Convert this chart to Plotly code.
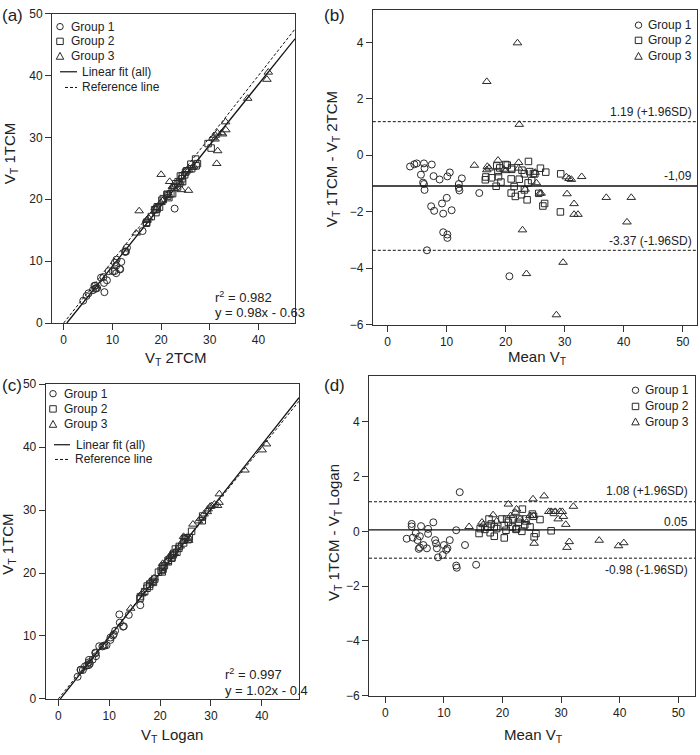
import numpy as np
import plotly.graph_objects as go

W, H = 700, 755
FONT = "Liberation Sans, Arial, sans-serif"
INK = "#2a2a2a"

# ---------------- Panel (a): VT 2TCM (x) vs VT 1TCM (y) ----------------
a_g1_x = [4.01, 4.69, 5.09, 6.31, 7.66, 6.49, 6.00, 6.50, 6.67, 6.88, 8.16, 9.24, 10.51, 10.85, 12.99,
          12.58, 12.65, 12.80, 8.29, 8.88, 10.08, 10.79, 10.46, 11.83, 10.79, 11.54, 11.60, 8.36, 16.20, 22.78]
a_g1_y = [3.61, 4.37, 4.80, 6.02, 7.33, 6.03, 5.31, 5.53, 5.65, 5.65, 7.42, 8.38, 9.76, 10.24, 12.17,
          11.56, 11.49, 11.55, 6.48, 6.91, 8.37, 9.28, 8.39, 9.88, 8.06, 8.73, 8.67, 4.99, 14.86, 18.49]
a_g2_x = [16.99, 17.04, 18.00, 18.94, 18.68, 18.98, 19.17, 19.23, 19.68, 20.17, 20.45, 21.23, 21.28, 21.35,
          21.60, 22.00, 22.37, 22.73, 23.03, 23.38, 23.79, 23.50, 24.42, 24.29, 23.97, 24.37, 24.85, 25.03,
          25.26, 26.28, 26.12, 27.20, 27.46, 27.09, 30.28, 29.65]
a_g2_y = [16.12, 16.27, 17.20, 17.84, 18.30, 18.40, 18.41, 18.78, 18.73, 19.84, 20.10, 20.78, 20.78, 20.51,
          20.26, 20.89, 20.91, 21.88, 22.50, 21.98, 22.56, 22.84, 22.84, 23.31, 23.75, 23.79, 23.95, 24.38,
          24.60, 24.93, 25.66, 25.40, 25.75, 26.49, 28.27, 28.99]
a_g3_x = [20.01, 15.50, 21.76, 14.88, 17.10, 17.06, 17.43, 18.79, 19.95, 20.28, 22.33, 22.43, 25.31, 25.69,
          26.45, 26.68, 23.91, 24.18, 25.62, 31.62, 31.42, 31.08, 30.67, 31.15, 31.56, 33.25, 32.44, 32.63,
          33.30, 37.79, 42.02, 41.73]
a_g3_y = [23.99, 18.11, 22.85, 14.52, 16.70, 16.54, 16.97, 18.61, 19.45, 19.73, 22.07, 21.97, 24.70, 24.71,
          25.10, 25.33, 22.70, 21.53, 21.42, 27.82, 25.76, 29.71, 29.90, 30.32, 30.70, 32.49, 30.72, 30.53,
          31.20, 36.29, 40.52, 39.36]
a_fit_slope, a_fit_intercept = 0.98, -0.63
a_r2 = "0.982"

# ---------------- Panel (b): Bland-Altman 1TCM - 2TCM ----------------
b_g1_mean = [3.81, 4.53, 4.94, 6.16, 7.49, 6.26, 5.65, 6.01, 6.16, 6.26, 7.79, 8.81, 10.13, 10.54, 12.58,
             12.07, 12.07, 12.17, 7.38, 7.89, 9.22, 10.03, 9.42, 10.85, 9.42, 10.13, 10.13, 6.67, 15.53, 20.63]
b_g1_diff = [-0.40, -0.32, -0.29, -0.29, -0.33, -0.46, -0.69, -0.97, -1.02, -1.23, -0.74, -0.86, -0.75, -0.61,
             -0.82, -1.02, -1.16, -1.25, -1.81, -1.97, -1.71, -1.51, -2.07, -1.95, -2.73, -2.81, -2.93, -3.37,
             -1.34, -4.29]
b_g2_mean = [16.55, 16.65, 17.6, 18.39, 18.49, 18.69, 18.79, 19.0, 19.2, 20.0, 20.27, 21.0, 21.03, 20.93, 20.93,
             21.44, 21.64, 22.3, 22.76, 22.68, 23.17, 23.17, 23.63, 23.8, 23.86, 24.08, 24.4, 24.7, 24.93, 25.6,
             25.89, 26.3, 26.6, 26.79, 29.27, 29.32]
b_g2_diff = [-0.87, -0.77, -0.80, -1.10, -0.38, -0.58, -0.76, -0.45, -0.95, -0.33, -0.35, -0.45, -0.50, -0.84,
             -1.34, -1.11, -1.46, -0.85, -0.53, -1.40, -1.23, -0.66, -1.58, -0.98, -0.22, -0.58, -0.90, -0.65,
             -0.66, -1.35, -0.46, -1.80, -1.71, -0.60, -2.01, -0.66]
b_g3_mean = [22.0, 16.8, 22.3, 14.7, 16.9, 16.8, 17.2, 18.7, 19.7, 20.0, 22.2, 22.2, 25.0, 25.2, 25.77, 26.0,
             23.3, 22.85, 23.52, 29.72, 28.59, 30.39, 30.28, 30.73, 31.13, 32.87, 31.58, 31.58, 32.25, 37.04,
             41.27, 40.54]
b_g3_diff = [3.98, 2.61, 1.09, -0.36, -0.40, -0.52, -0.46, -0.18, -0.50, -0.55, -0.26, -0.46, -0.61, -0.98,
             -1.35, -1.35, -1.21, -2.65, -4.20, -3.80, -5.66, -1.37, -0.77, -0.83, -0.86, -0.76, -1.72, -2.10,
             -2.10, -1.50, -1.50, -2.37]
b_bias, b_upper, b_lower = -1.09, 1.19, -3.37
b_labels = ["1.19 (+1.96SD)", "-1,09", "-3.37 (-1.96SD)"]

# ---------------- Panel (c): VT Logan (x) vs VT 1TCM (y) ----------------
c_g1_x = [3.79, 4.37, 4.41, 4.82, 5.23, 5.66, 5.99, 6.20, 6.75, 7.26, 7.35, 7.41, 8.04, 8.66, 8.87, 9.11,
          9.48, 10.23, 10.25, 10.74, 10.91, 11.16, 12.08, 12.73, 12.87, 11.99, 13.85, 16.11, 6.02, 6.01]
c_g1_y = [3.52, 4.64, 4.59, 4.59, 5.17, 5.34, 5.81, 5.61, 6.25, 7.35, 7.26, 6.79, 8.37, 8.34, 8.43, 8.49,
          8.53, 9.37, 9.75, 10.06, 10.29, 10.84, 12.12, 11.48, 11.54, 13.42, 13.35, 14.89, 5.38, 6.20]
c_g2_x = [16.04, 16.15, 16.97, 17.43, 17.48, 17.93, 17.97, 18.69, 18.52, 18.95, 19.68, 20.42, 20.20, 20.58,
          20.48, 20.84, 21.62, 21.58, 22.27, 22.35, 22.54, 22.68, 23.30, 23.00, 23.68, 23.78, 24.62, 24.79,
          25.03, 25.50, 25.74, 26.19, 28.29, 28.36]
c_g2_y = [15.96, 16.25, 17.04, 17.58, 17.93, 17.88, 18.24, 18.51, 18.68, 19.05, 20.13, 20.18, 20.41, 20.62,
          20.93, 21.17, 21.78, 22.03, 22.34, 22.45, 22.87, 23.13, 23.30, 23.81, 23.92, 24.23, 24.78, 25.42,
          25.58, 25.30, 25.66, 26.62, 28.31, 29.05]
c_g3_x = [14.22, 16.34, 16.58, 18.10, 18.82, 20.51, 21.12, 21.86, 22.00, 22.78, 23.94, 24.42, 24.61, 25.02,
          25.62, 26.46, 27.54, 27.94, 28.64, 29.28, 29.44, 29.84, 30.13, 30.68, 31.30, 31.59, 31.65, 36.67,
          40.07, 40.91]
c_g3_y = [14.39, 16.67, 16.82, 18.70, 19.19, 21.50, 21.69, 22.55, 22.81, 23.23, 24.27, 24.99, 25.79, 25.59,
          25.18, 27.75, 28.26, 28.66, 29.36, 29.73, 30.16, 30.56, 30.67, 30.93, 30.71, 31.21, 32.56, 36.34,
          39.54, 40.49]
c_fit_slope, c_fit_intercept = 1.02, -0.4
c_r2 = "0.997"

# ---------------- Panel (d): Bland-Altman 1TCM - Logan ----------------
d_g1_mean = [3.65, 4.5, 4.5, 4.7, 5.2, 5.5, 5.9, 5.9, 6.5, 7.3, 7.3, 7.1, 8.2, 8.5, 8.65, 8.8, 9.0, 9.8, 10.0,
             10.4, 10.6, 11.0, 12.1, 12.1, 12.2, 12.7, 13.6, 15.5, 5.7, 6.1]
d_g1_diff = [-0.27, 0.27, 0.18, -0.23, -0.06, -0.32, -0.18, -0.59, -0.50, 0.09, -0.09, -0.62, 0.33, -0.32,
             -0.44, -0.62, -0.95, -0.86, -0.50, -0.68, -0.62, -0.32, 0.04, -1.25, -1.33, 1.43, -0.50, -1.22,
             -0.64, 0.19]
d_g2_mean = [16.0, 16.2, 17.0, 17.5, 17.7, 17.9, 18.1, 18.6, 18.6, 19.0, 19.9, 20.3, 20.3, 20.6, 20.7, 21.0,
             21.7, 21.8, 22.3, 22.4, 22.7, 22.9, 23.3, 23.4, 23.8, 24.0, 24.7, 25.1, 25.3, 25.4, 25.7, 26.4,
             28.3, 28.7]
d_g2_diff = [-0.08, 0.10, 0.07, 0.15, 0.45, -0.05, 0.27, -0.18, 0.16, 0.10, 0.45, -0.24, 0.21, 0.04, 0.45,
             0.33, 0.16, 0.45, 0.07, 0.10, 0.33, 0.45, 0.0, 0.81, 0.24, 0.45, 0.16, 0.63, 0.55, -0.20, -0.08,
             0.43, 0.02, 0.69]
d_g3_mean = [14.3, 16.5, 16.7, 18.4, 19.0, 21.0, 21.4, 22.2, 22.4, 23.0, 24.1, 24.7, 25.2, 25.3, 25.4, 27.1,
             27.9, 28.3, 29.0, 29.5, 29.8, 30.2, 30.4, 30.8, 31.0, 31.4, 32.1, 36.5, 39.8, 40.7]
d_g3_diff = [0.17, 0.33, 0.24, 0.60, 0.37, 0.99, 0.57, 0.69, 0.81, 0.45, 0.33, 0.57, 1.18, 0.57, -0.44, 1.29,
             0.72, 0.72, 0.72, 0.45, 0.72, 0.72, 0.54, 0.25, -0.59, -0.38, 0.91, -0.33, -0.53, -0.42]
d_bias, d_upper, d_lower = 0.05, 1.08, -0.98
d_labels = ["1.08 (+1.96SD)", "0.05", "-0.98 (-1.96SD)"]

group_names = ["Group 1", "Group 2", "Group 3"]
line_names = ["Linear fit (all)", "Reference line"]

# ---------------- styling / layout geometry ----------------
SYMBOLS = ["circle-open", "square-open", "triangle-up-open"]
SIZES = [7, 6.5, 7.5]
DASH = "3px,2px"


def px2paper(px, py):
    return px / W, 1 - py / H


# plot-area boxes in pixels: (left, right, top, bottom)
BOX = {
    "a": (52, 295, 6.7, 322),
    "b": (372.8, 697, 3, 323.5),
    "c": (45.7, 299, 384.3, 705),
    "d": (369, 695, 376, 701.7),
}
RANGES = {
    "a": ([-2.4, 47.5], [0, 50]),
    "b": ([-2.5, 52.4], [-6, 5.15]),
    "c": ([-2.48, 47.3], [0, 50]),
    "d": ([-2.78, 52.85], [-6, 5.67]),
}
AX = {"a": ("x", "y"), "b": ("x2", "y2"), "c": ("x3", "y3"), "d": ("x4", "y4")}
LAYOUT_KEYS = {"a": ("xaxis", "yaxis"), "b": ("xaxis2", "yaxis2"), "c": ("xaxis3", "yaxis3"),
               "d": ("xaxis4", "yaxis4")}
XTICKS = {"a": [0, 10, 20, 30, 40], "b": [0, 10, 20, 30, 40, 50], "c": [0, 10, 20, 30, 40],
          "d": [0, 10, 20, 30, 40, 50]}
YTICKS = {"a": [0, 10, 20, 30, 40, 50], "b": [-6, -4, -2, 0, 2, 4], "c": [0, 10, 20, 30, 40, 50],
          "d": [-6, -4, -2, 0, 2, 4]}

fig = go.Figure()

panel_points = {
    "a": [(a_g1_x, a_g1_y), (a_g2_x, a_g2_y), (a_g3_x, a_g3_y)],
    "b": [(b_g1_mean, b_g1_diff), (b_g2_mean, b_g2_diff), (b_g3_mean, b_g3_diff)],
    "c": [(c_g1_x, c_g1_y), (c_g2_x, c_g2_y), (c_g3_x, c_g3_y)],
    "d": [(d_g1_mean, d_g1_diff), (d_g2_mean, d_g2_diff), (d_g3_mean, d_g3_diff)],
}

# regression + identity lines for scatter panels
for key, slope, intercept in [("a", a_fit_slope, a_fit_intercept), ("c", c_fit_slope, c_fit_intercept)]:
    xa, ya = AX[key]
    xmax = RANGES[key][0][1]
    xs_fit = np.array([max(-intercept / slope, 0.0), xmax])
    fig.add_trace(go.Scatter(x=xs_fit, y=slope * xs_fit + intercept, mode="lines", xaxis=xa, yaxis=ya,
                             line=dict(color="#111", width=1.3), name=line_names[0], showlegend=False,
                             hoverinfo="skip"))
    xs_ref = np.array([0.0, xmax])
    fig.add_trace(go.Scatter(x=xs_ref, y=xs_ref, mode="lines", xaxis=xa, yaxis=ya,
                             line=dict(color="#111", width=1, dash=DASH), name=line_names[1],
                             showlegend=False, hoverinfo="skip"))

for key, groups in panel_points.items():
    xa, ya = AX[key]
    for gi, (xs, ys) in enumerate(groups):
        fig.add_trace(go.Scatter(
            x=xs, y=ys, mode="markers", xaxis=xa, yaxis=ya, name=group_names[gi], showlegend=False,
            marker=dict(symbol=SYMBOLS[gi], size=SIZES[gi], color=INK, line=dict(width=1, color=INK)),
        ))

shapes = []
annotations = []

# Bland-Altman horizontal lines
for key, bias, up, lo in [("b", b_bias, b_upper, b_lower), ("d", d_bias, d_upper, d_lower)]:
    xa, ya = AX[key]
    for val, dash, wd in [(bias, "solid", 1.3), (up, DASH, 1), (lo, DASH, 1)]:
        shapes.append(dict(type="line", xref=f"{xa} domain", yref=ya, x0=0, x1=1, y0=val, y1=val,
                           line=dict(color="#111", width=wd, dash=dash), layer="above"))

layout_axes = {}
for key in "abcd":
    l, r, t, b = BOX[key]
    xk, yk = LAYOUT_KEYS[key]
    common = dict(showline=True, mirror=True, linecolor="#333", linewidth=1, showgrid=False,
                  zeroline=False, ticks="outside", ticklen=6, tickwidth=1, tickcolor="#333",
                  tickfont=dict(family=FONT, size=12, color="#222"))
    layout_axes[xk] = dict(domain=[l / W, r / W], range=RANGES[key][0], tickvals=XTICKS[key],
                           anchor=AX[key][1], **common)
    layout_axes[yk] = dict(domain=[1 - b / H, 1 - t / H], range=RANGES[key][1], tickvals=YTICKS[key],
                           anchor=AX[key][0], **common)


def text(px, py, s, size=12, xanchor="left", yanchor="middle", angle=0):
    x, y = px2paper(px, py)
    annotations.append(dict(x=x, y=y, xref="paper", yref="paper", text=s, showarrow=False,
                            xanchor=xanchor, yanchor=yanchor, textangle=angle,
                            font=dict(family=FONT, size=size, color="#222")))


# panel letters
text(0, 9, "(a)", 17)
text(322, 9, "(b)", 17)
text(0, 386, "(c)", 17)
text(322, 386, "(d)", 17)

# axis titles
text(175, 358, "V<sub>T</sub> 2TCM", 15, "center")
text(10, 150, "V<sub>T</sub> 1TCM", 15, "center", "middle", -90)
text(537, 357, "Mean V<sub>T</sub>", 15, "center")
text(332, 155, "V<sub>T</sub> 1TCM - V<sub>T</sub> 2TCM", 15, "center", "middle", -90)
text(172, 742, "V<sub>T</sub> Logan", 15, "center")
text(9, 548, "V<sub>T</sub> 1TCM", 15, "center", "middle", -90)
text(533, 742, "Mean V<sub>T</sub>", 15, "center")
text(334, 536, "V<sub>T</sub> 1TCM - V<sub>T</sub> Logan", 15, "center", "middle", -90)

# regression text
text(213, 295, f"r<sup>2</sup> = {a_r2}", 13)
text(213, 311, f"y = {a_fit_slope}x - {abs(a_fit_intercept)}", 13)
text(223, 680, f"r<sup>2</sup> = {c_r2}", 13)
text(223, 696, f"y = {c_fit_slope}x - {abs(c_fit_intercept)}", 13)

# Bland-Altman labels
text(694, 107, b_labels[0], 12, "right")
text(694, 172, b_labels[1], 12, "right")
text(694, 238, b_labels[2], 12, "right")
text(690, 493, d_labels[0], 12, "right")
text(690, 525, d_labels[1], 12, "right")
text(690, 574, d_labels[2], 12, "right")


# hand-placed legends (glyphs + labels)
def glyph(kind, cx, cy, s=6.5):
    if kind == 0:
        x0, y1 = px2paper(cx - s / 2, cy - s / 2)
        x1, y0 = px2paper(cx + s / 2, cy + s / 2)
        shapes.append(dict(type="circle", xref="paper", yref="paper", x0=x0, x1=x1, y0=y0, y1=y1,
                           line=dict(color=INK, width=1)))
    elif kind == 1:
        x0, y1 = px2paper(cx - s / 2, cy - s / 2)
        x1, y0 = px2paper(cx + s / 2, cy + s / 2)
        shapes.append(dict(type="rect", xref="paper", yref="paper", x0=x0, x1=x1, y0=y0, y1=y1,
                           line=dict(color=INK, width=1)))
    else:
        p1 = px2paper(cx, cy - s / 2 - 0.5)
        p2 = px2paper(cx - s / 2 - 0.5, cy + s / 2)
        p3 = px2paper(cx + s / 2 + 0.5, cy + s / 2)
        path = f"M{p1[0]},{p1[1]} L{p2[0]},{p2[1]} L{p3[0]},{p3[1]} Z"
        shapes.append(dict(type="path", xref="paper", yref="paper", path=path,
                           line=dict(color=INK, width=1)))


def legend_line(x0p, x1p, yp, dash):
    a0 = px2paper(x0p, yp)
    a1 = px2paper(x1p, yp)
    shapes.append(dict(type="line", xref="paper", yref="paper", x0=a0[0], x1=a1[0], y0=a0[1], y1=a1[1],
                       line=dict(color="#111", width=1.2 if dash == "solid" else 1, dash=dash)))


LEG_FONT = 12
# (a)
for gi, yy in enumerate([20, 35, 50]):
    glyph(gi, 60, yy)
    text(69, yy, group_names[gi], LEG_FONT)
legend_line(60, 77, 66, "solid")
text(80, 66, line_names[0], LEG_FONT)
legend_line(65, 77, 82, DASH)
text(80, 82, line_names[1], LEG_FONT)
# (b)
for gi, yy in enumerate([18.5, 34, 50]):
    glyph(gi, 638.5, yy)
    text(646, yy, group_names[gi], LEG_FONT)
# (c)
for gi, yy in enumerate([394, 409.5, 425]):
    glyph(gi, 53, yy)
    text(62, yy, group_names[gi], LEG_FONT)
legend_line(54, 70, 446, "solid")
text(74, 446, line_names[0], LEG_FONT)
legend_line(55, 70, 461, DASH)
text(73, 461, line_names[1], LEG_FONT)
# (d)
for gi, yy in enumerate([390.5, 407, 422.5]):
    glyph(gi, 635.5, yy)
    text(643, yy, group_names[gi], LEG_FONT)

fig.update_layout(
    width=W, height=H, margin=dict(l=0, r=0, t=0, b=0),
    paper_bgcolor="white", plot_bgcolor="white", showlegend=False,
    font=dict(family=FONT, color="#222"),
    shapes=shapes, annotations=annotations, **layout_axes,
)

fig.write_html(
    "out.html",
    config={"displayModeBar": False},
    post_script="document.body.style.margin='0';document.body.style.padding='0';"
                "document.body.style.overflow='hidden';",
)
